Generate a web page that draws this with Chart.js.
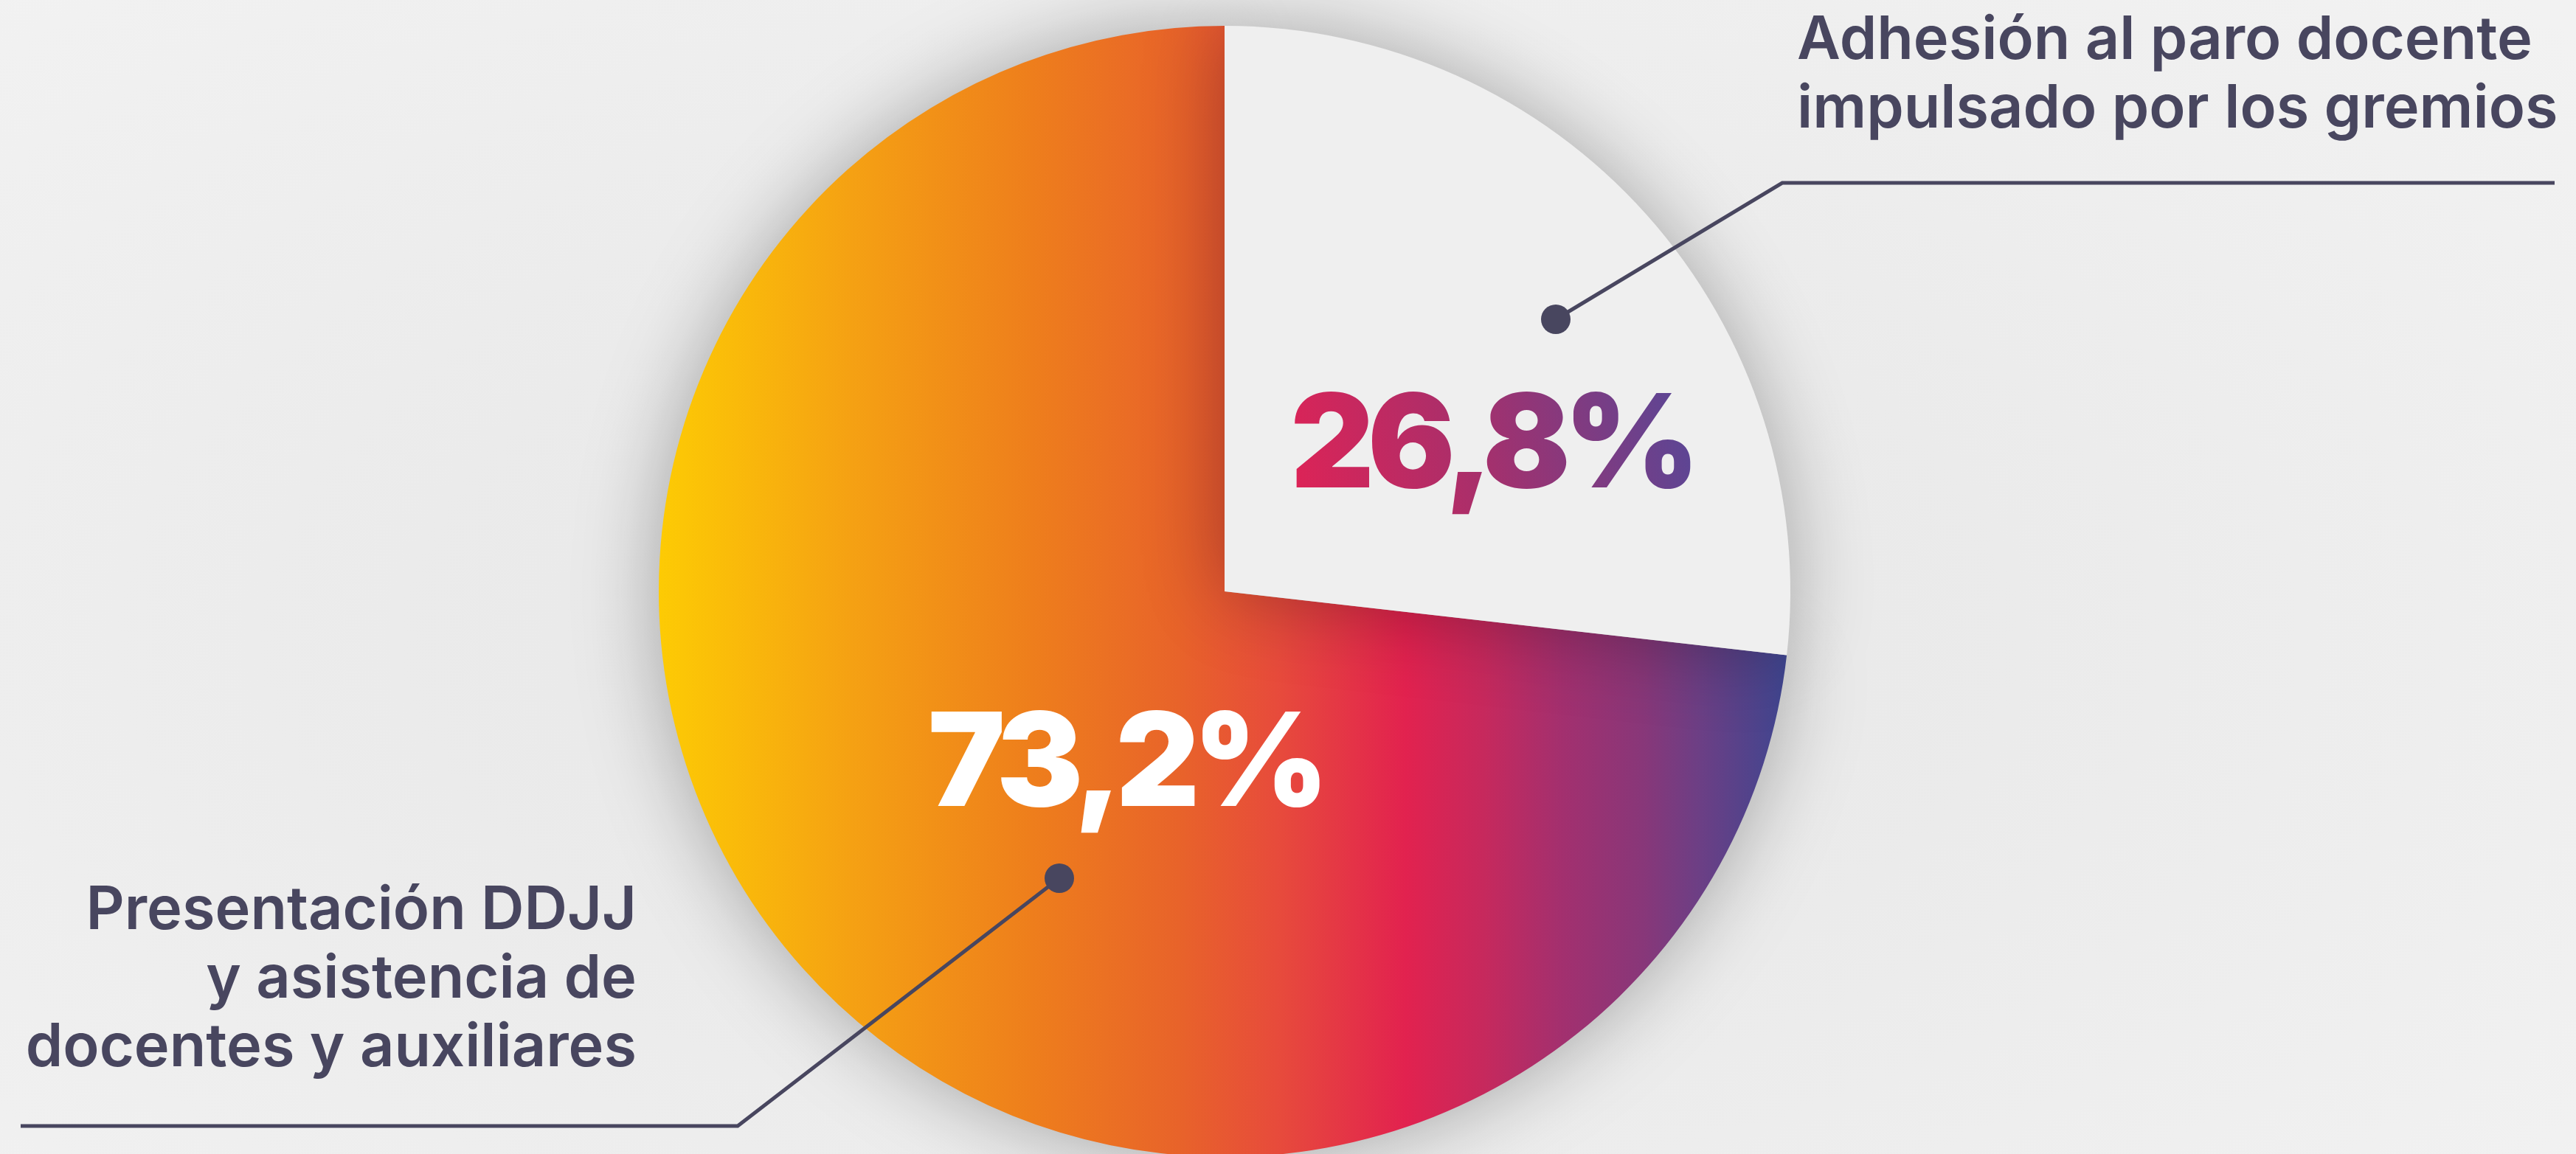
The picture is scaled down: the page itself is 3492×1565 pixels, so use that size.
<!DOCTYPE html>
<html>
<head>
<meta charset="utf-8">
<script src="https://cdn.jsdelivr.net/npm/chart.js@4.4.1/dist/chart.umd.min.js"></script>
<style>
  html, body { margin: 0; padding: 0; overflow: hidden; background: #eeeeee; }
  #wrap {
    position: absolute; left: 0; top: 0; width: 3492px; height: 1575px;
    background: radial-gradient(ellipse 70% 80% at 47% 55%, #e6e6e6 0%, #ebebeb 45%, #f2f2f2 100%);
  }
</style>
</head>
<body>
<div id="wrap"><canvas id="chart"></canvas></div>
<script>
// ---------- DATA ----------
const categories = [
  ["Presentación DDJJ", "y asistencia de", "docentes y auxiliares"],
  ["Adhesión al paro docente", "impulsado por los gremios"]
];
const values = [73.2, 26.8];

// ---------- STYLE ----------
const TEXT_COLOR = '#48465f';
const LIGHT_SLICE = '#efefef';
const bigSliceStops = [
  [0.00, '#fdcb04'],
  [0.17, '#f5a113'],
  [0.33, '#ee7e1c'],
  [0.46, '#e8632a'],
  [0.55, '#e74a3c'],
  [0.66, '#e2224f'],
  [0.73, '#c6295d'],
  [0.80, '#a2306f'],
  [0.87, '#883779'],
  [0.92, '#6c3f85'],
  [1.00, '#3d4690']
];
const pctTextGradient = [[0, '#de2356'], [0.45, '#a82f6b'], [1, '#574797']];

// Annotation layout, offsets in px from the pie centre
const calloutStyle = [
  { // slice 0 (big)
    pct: { dx: -135, dy: 291, color: '#ffffff' },
    dot: [-224, 389], elbow: [-660, 725], end: [-1632, 725],
    text: { x: -797, y: 458, align: 'right' }
  },
  { // slice 1 (light)
    pct: { dx: 362, dy: -141, color: 'gradient' },
    dot: [449, -369], elbow: [756, -554], end: [1803, -554],
    text: { x: 776, y: -722, align: 'left' }
  }
];
const LABEL_FONT = '600 81px Inter, "Open Sans", sans-serif';
const LABEL_SPACING = '0px';
const LABEL_LINE = 93;
const PCT_FONT = '900 176px Inter, Roboto, sans-serif';
const PCT_SPACING = '-9px';

const total = values.reduce((a, b) => a + b, 0);
const fmtPct = v => (v / total * 100).toFixed(1).replace('.', ',') + '%';

function bigGradient(chart) {
  const a = chart.chartArea;
  const cx = (a.left + a.right) / 2;
  const r = Math.min(a.width, a.height) / 2;
  const g = chart.ctx.createLinearGradient(cx - r, 0, cx + r, 0);
  bigSliceStops.forEach(([o, c]) => g.addColorStop(o, c));
  return g;
}

const shadowPlugin = {
  id: 'pieShadow',
  beforeDatasetsDraw(chart) {
    const ctx = chart.ctx;
    ctx.save();
    ctx.shadowColor = 'rgba(0,0,0,0.30)';
    ctx.shadowBlur = 110;
    ctx.shadowOffsetX = 0;
    ctx.shadowOffsetY = 0;
  },
  afterDatasetsDraw(chart) {
    chart.ctx.restore();
  }
};

const calloutPlugin = {
  id: 'callouts',
  afterDatasetsDraw(chart) {
    const ctx = chart.ctx;
    const meta = chart.getDatasetMeta(0);
    meta.data.forEach((arc, i) => {
      const s = calloutStyle[i];
      const cx = arc.x, cy = arc.y;
      // percentage label
      ctx.save();
      ctx.font = PCT_FONT;
      ctx.letterSpacing = PCT_SPACING;
      ctx.textAlign = 'center';
      ctx.textBaseline = 'alphabetic';
      const txt = fmtPct(values[i]);
      const px = cx + s.pct.dx, py = cy + s.pct.dy;
      if (s.pct.color === 'gradient') {
        const w = ctx.measureText(txt).width;
        const g = ctx.createLinearGradient(px - w / 2, py, px + w / 2, py - 130);
        pctTextGradient.forEach(([o, c]) => g.addColorStop(o, c));
        ctx.fillStyle = g;
      } else {
        ctx.fillStyle = s.pct.color;
      }
      ctx.fillText(txt, px, py);
      ctx.restore();

      // leader line
      ctx.save();
      ctx.strokeStyle = TEXT_COLOR;
      ctx.lineWidth = 5;
      ctx.lineJoin = 'miter';
      ctx.beginPath();
      ctx.moveTo(cx + s.dot[0], cy + s.dot[1]);
      ctx.lineTo(cx + s.elbow[0], cy + s.elbow[1]);
      ctx.lineTo(cx + s.end[0], cy + s.end[1]);
      ctx.stroke();
      ctx.fillStyle = TEXT_COLOR;
      ctx.beginPath();
      ctx.arc(cx + s.dot[0], cy + s.dot[1], 20, 0, Math.PI * 2);
      ctx.fill();

      // category label
      ctx.font = LABEL_FONT;
      ctx.letterSpacing = LABEL_SPACING;
      ctx.textAlign = s.text.align;
      ctx.textBaseline = 'alphabetic';
      categories[i].forEach((line, k) => {
        ctx.fillText(line, cx + s.text.x, cy + s.text.y + k * LABEL_LINE);
      });
      ctx.restore();
    });
  }
};

new Chart(document.getElementById('chart'), {
  type: 'pie',
  data: {
    labels: categories.map(l => l.join(' ')),
    datasets: [{
      data: values,
      backgroundColor: (ctx) => ctx.dataIndex === 0 ? (ctx.chart.chartArea ? bigGradient(ctx.chart) : '#e8632a') : LIGHT_SLICE,
      borderWidth: 0,
      hoverOffset: 0,
      offset: 0,
      clip: false
    }]
  },
  options: {
    responsive: true,
    maintainAspectRatio: false,
    devicePixelRatio: 1,
    animation: false,
    // light slice starts at 12 o'clock: rotate by its share of the circle
    rotation: values[1] / total * 360,
    layout: { padding: { top: 35, bottom: 6, left: 0, right: 172 } },
    plugins: {
      legend: { display: false },
      tooltip: { enabled: false }
    },
    events: []
  },
  plugins: [shadowPlugin, calloutPlugin]
});
</script>
</body>
</html>
